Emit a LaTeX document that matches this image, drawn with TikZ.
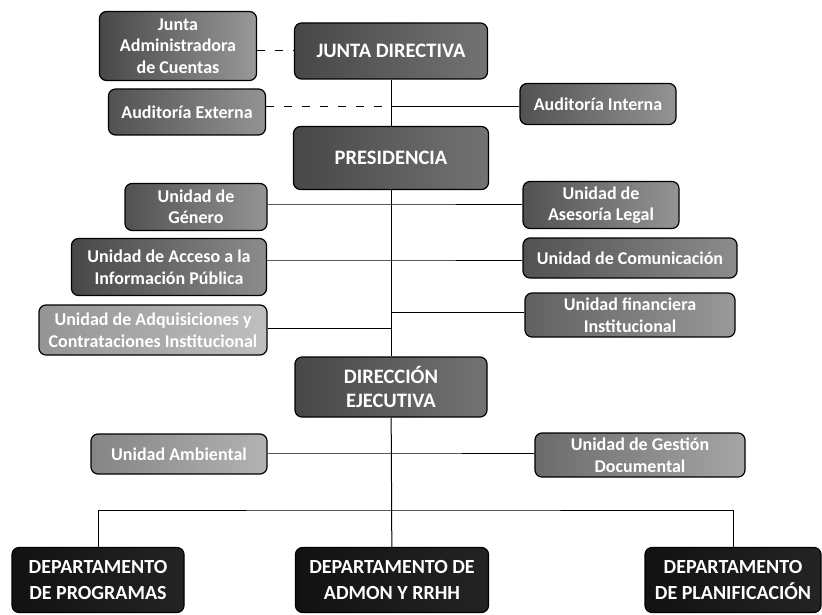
\documentclass[tikz,border=0pt]{standalone}
\usepackage{fontspec}
\setmainfont{Carlito}
\begin{document}
\begin{tikzpicture}[x=1pt, y=-1pt,
    box/.style 2 args={draw, line width=1.2pt, rounded corners=7pt, left color=black!#1, right color=black!#2, text=white, align=center, inner sep=1pt, font=\bfseries\fontsize{18}{21.5}\selectfont},
    head/.style={box={72}{55}, font=\bfseries\fontsize{20.5}{23.5}\selectfont},
    dept/.style={box={93}{86}, minimum height=65pt, font=\bfseries\fontsize{20}{26}\selectfont},
    line/.style={line width=1pt},
    dline/.style={line width=1pt, dash pattern=on 8pt off 10pt}
]
    \useasboundingbox (0,0) rectangle (822,615);

    % Governing boxes
    \node[head, minimum width=193pt, minimum height=56pt] (jd) at (391,51) {JUNTA DIRECTIVA};
    \node[head, minimum width=195pt, minimum height=63pt] (pres) at (391,158) {PRESIDENCIA};
    \node[head, minimum width=192pt, minimum height=60pt] (dir) at (391,387) {DIRECCIÓN\\EJECUTIVA};

    % Units
    \node[box={72}{40}, minimum width=157pt, minimum height=69pt] (jac) at (178,46) {Junta\\Administradora\\de Cuentas};
    \node[box={68}{42}, minimum width=157pt, minimum height=46pt] (aext) at (187,112) {Auditoría Externa};
    \node[box={68}{42}, minimum width=156pt, minimum height=41pt] (aint) at (598,104) {Auditoría Interna};
    \node[box={68}{42}, minimum width=142pt, minimum height=47pt] (gen) at (196,207) {Unidad de\\Género};
    \node[box={68}{42}, minimum width=156pt, minimum height=47pt] (ase) at (601,205) {Unidad de\\Asesoría Legal};
    \node[box={72}{45}, minimum width=195pt, minimum height=57pt] (acc) at (169,267) {Unidad de Acceso a la\\Información Pública};
    \node[box={68}{45}, minimum width=214pt, minimum height=40pt] (com) at (630,258) {Unidad de Comunicación};
    \node[box={42}{25}, minimum width=228pt, minimum height=50pt] (adq) at (153,330) {Unidad de Adquisiciones y\\Contrataciones Institucional};
    \node[box={62}{40}, minimum width=210pt, minimum height=44pt] (fin) at (630,315) {Unidad financiera\\Institucional};
    \node[box={48}{30}, minimum width=176pt, minimum height=40pt] (amb) at (179,454) {Unidad Ambiental};
    \node[box={58}{35}, minimum width=210pt, minimum height=44pt] (ges) at (640,455) {Unidad de Gestión\\Documental};

    % Departments
    \node[dept, minimum width=172pt] (prog) at (98,580) {DEPARTAMENTO\\DE PROGRAMAS};
    \node[dept, minimum width=193pt] (admon) at (392,580) {DEPARTAMENTO DE\\ADMON Y RRHH};
    \node[dept, minimum width=176pt] (plan) at (733,580) {DEPARTAMENTO\\DE PLANIFICACIÓN};

    % Spine
    \draw[line] (jd) -- (pres);
    \draw[line] (pres) -- (dir);
    \draw[line] (dir) -- (admon);

    % Junctions on the spine
    \coordinate (aud) at (391,107);
    \coordinate (s1) at (391,204);
    \coordinate (s2) at (391,260);
    \coordinate (s3) at (391,312);
    \coordinate (s4) at (391,328);
    \coordinate (s5) at (391,453);
    \coordinate (bus) at (391,510);

    % Dashed links
    \draw[dline] (jac.east |- jd) -- (jd.west);
    \draw[dline] (aext.east |- aud) -- (aud);
    \draw[line] (aud) -- (aint.west |- aud);

    % Unit links
    \draw[line] (gen.east |- s1) -- (s1) -- (ase.west |- s1);
    \draw[line] (acc.east |- s2) -- (s2) -- (com.west |- s2);
    \draw[line] (s3) -- (fin.west |- s3);
    \draw[line] (adq.east |- s4) -- (s4);
    \draw[line] (amb.east |- s5) -- (s5) -- (ges.west |- s5);

    % Department bus
    \draw[line] (prog.north) |- (bus) -| (plan.north);
\end{tikzpicture}
\end{document}
